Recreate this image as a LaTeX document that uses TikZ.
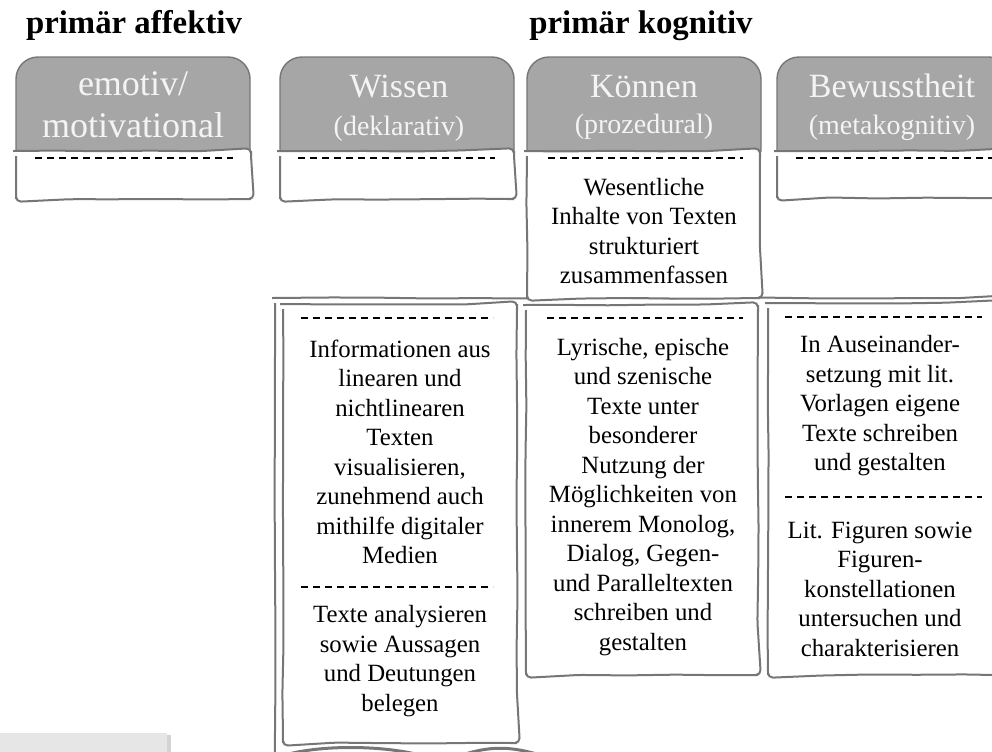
\documentclass[tikz,border=0pt]{standalone}
\usepackage{fontspec}
\setmainfont{Liberation Serif}
\usetikzlibrary{decorations.pathmorphing,shadows}
\definecolor{tabgray}{HTML}{A6A6A6}
\definecolor{linegray}{HTML}{767676}
\definecolor{headtext}{HTML}{F4F4F4}
\definecolor{notegray}{HTML}{E6E6E6}
\pgfmathsetseed{11}
\begin{document}
\begin{tikzpicture}[x=0.5pt,y=-0.5pt,
  sketch/.style={draw=linegray,line width=1pt,decorate,decoration={random steps,segment length=24pt,amplitude=0.3pt},rounded corners=2.5pt},
  tabhead/.style={fill=tabgray,draw=linegray,line width=0.7pt},
  headline/.style={text=headtext,anchor=base,inner sep=0pt,font=\fontsize{17}{20}\selectfont},
  subline/.style={text=headtext,anchor=base,inner sep=0pt,font=\fontsize{14}{17}\selectfont},
  boxtext/.style={align=center,inner sep=0pt,font=\fontsize{12.4}{14.75}\selectfont},
  dashsep/.style={line width=1.1pt,dash pattern=on 3.5pt off 2.5pt},
  heading/.style={anchor=base,inner sep=0pt,font=\fontsize{16.4}{19}\selectfont\bfseries}]
  \useasboundingbox (0,0) rectangle (992,751);
  \clip (0,0) rectangle (992,751);

  % headings
  \node[heading] (affektiv) at (134,33) {primär affektiv};
  \node[heading] (kognitiv) at (641,33) {primär kognitiv};

  % outer frame of the second row
  \draw[sketch] (275,298) rectangle (1010,800);

  % tabs
  \foreach \x in {16,280,527,777}{
    \draw[tabhead] (\x,151) -- (\x,79) to[out=90,in=180] (\x+22,57) -- (\x+212,57) to[out=0,in=90] (\x+234,79) -- (\x+234,151) -- cycle;
  }
  \draw[sketch,fill=white] (16,151) rectangle (251,199);
  \draw[sketch,fill=white] (280,151) rectangle (514,199);
  \draw[sketch,fill=white] (527,151) rectangle (760,298);
  \draw[sketch,fill=white] (777,151) rectangle (1011,198);

  \node[headline,font=\fontsize{18}{21}\selectfont] (emo1) at (133,95) {emotiv/};
  \node[headline,font=\fontsize{18}{21}\selectfont] (emo2) at (133,137) {motivational};
  \node[headline] (wis1) at (399,97) {Wissen};
  \node[subline] (wis2) at (399,135) {(deklarativ)};
  \node[headline] (kon1) at (644,97) {Können};
  \node[subline] (kon2) at (644,133) {(prozedural)};
  \node[headline] (bew1) at (892,97) {Bewusstheit};
  \node[subline] (bew2) at (892,134) {(metakognitiv)};

  \foreach \x/\l/\r in {35/233,298/495,548/743,796/1000}{
    \draw[dashsep] (\x,158) -- (\l,158);
  }
  \node[boxtext] (kon3) at (644,231) {Wesentliche\\Inhalte von Texten\\strukturiert\\zusammenfassen};

  % second row
  \draw[sketch,fill=white] (283,304) rectangle (517,743);
  \draw[sketch,fill=white] (526,305) rectangle (758,675);
  \draw[sketch,fill=white] (768,303) rectangle (999,675);

  \draw[dashsep] (301,318) -- (493,318);
  \draw[dashsep] (301,587) -- (493,587);
  \draw[dashsep] (547,318) -- (743,318);
  \draw[dashsep] (785,317) -- (982,317);
  \draw[dashsep] (785,497) -- (982,497);

  \node[boxtext] (wis3) at (400,452) {Informationen aus\\linearen und\\nichtlinearen\\Texten\\visualisieren,\\zunehmend auch\\mithilfe digitaler\\Medien};
  \node[boxtext] (wis4) at (400,661) {Texte analysieren\\sowie Aussagen\\und Deutungen\\belegen};
  \node[boxtext] (kon4) at (643,497) {Lyrische, epische\\und szenische\\Texte unter\\besonderer\\Nutzung der\\Möglichkeiten von\\innerem Monolog,\\Dialog, Gegen-\\und Paralleltexten\\schreiben und\\gestalten};
  \node[boxtext] (bew3) at (880,406) {In Auseinander-\\setzung mit lit.\\Vorlagen eigene\\Texte schreiben\\und gestalten};
  \node[boxtext] (bew4) at (880,589) {Lit. Figuren sowie\\Figuren-\\konstellationen\\untersuchen und\\charakterisieren};

  % cut-off parts at the bottom
  \draw[linegray,line width=1.5pt] (285,755) .. controls (320,745) and (380,745) .. (420,755);
  \draw[linegray,line width=1.5pt] (462,755) .. controls (490,746) and (510,746) .. (540,755);
  \fill[notegray,drop shadow={shadow xshift=2pt,shadow yshift=-1pt,opacity=0.35}] (-10,733) rectangle (167,770);
\end{tikzpicture}
\end{document}
